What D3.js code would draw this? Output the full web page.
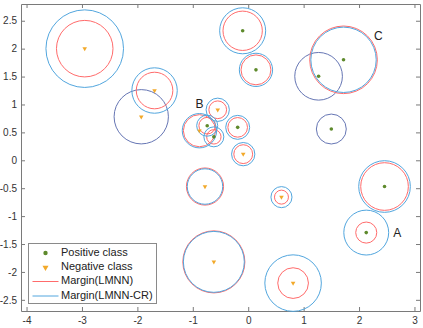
<!DOCTYPE html>
<html>
<head>
<meta charset="utf-8">
<script src="https://cdn.jsdelivr.net/npm/d3@7"></script>
<style>
  body { margin: 0; background: #fff; }
  svg { font-family: 'Liberation Sans', Arial, sans-serif; }
</style>
</head>
<body>
<div id="chart"></div>
<script>
// samples: position, class and margin radii (null = not drawn)
const pointX = [-2.95, -1.69, -1.93, -0.10, 0.14, 1.72, 1.27, 1.50, -0.19, -0.09,
  -0.55, -0.74, -0.88, -0.62, -0.78, -0.62, 0.60, 2.46, 2.13, 0.81]
const pointY = [2.00, 1.25, 0.78, 2.32, 1.62, 1.80, 1.505, 0.56, 0.59, 0.11,
  0.905, 0.62, 0.53, 0.42, -0.47, -1.82, -0.66, -0.47, -1.295, -2.20]
const pointClass = ['neg', 'neg', 'neg', 'pos', 'pos', 'pos', 'pos', 'pos', 'pos', 'neg',
  'neg', 'pos', 'neg', 'pos', 'neg', 'neg', 'neg', 'pos', 'pos', 'neg']
const lmnnR = [0.51, 0.33, null, 0.355, 0.27, 0.61, null, null, 0.177, 0.17,
  0.16, 0.15, 0.29, 0.13, 0.335, 0.56, 0.126, 0.43, 0.19, 0.277]
const lmnnCrR = [0.70, 0.41, null, 0.415, 0.30, 0.59, null, null, 0.216, 0.21,
  0.21, 0.19, 0.31, 0.18, 0.32, 0.55, 0.19, 0.466, 0.405, 0.51]
const plainR = [null, null, 0.49, null, null, null, 0.43, 0.27, null, null,
  null, null, null, null, null, null, null, null, null, null]

const xTicks = [-4, -3, -2, -1, 0, 1, 2, 3]
const yTicks = [-2.5, -2, -1.5, -1, -0.5, 0, 0.5, 1, 1.5, 2, 2.5]

const labelText = ['A', 'B', 'C']
const labelX = [2.69, -0.88, 2.35]
const labelY = [-1.31, 1.0, 2.22]

const legendText = ['Positive class', 'Negative class', 'Margin(LMNN)', 'Margin(LMNN-CR)']

const red = '#ff6b6b'
const blue = '#52a6de'
const navy = '#6676b4'
const green = '#5e8a2c'
const orange = '#f2a92a'

const W = 423
const H = 328
const plot = { left: 21, right: 420, top: 4, bottom: 311 }

const svg = d3.select('#chart').append('svg')
  .attr('width', W)
  .attr('height', H)

const x = d3.scaleLinear().domain([-4.1, 3.1]).range([plot.left, plot.right])
const y = d3.scaleLinear().domain([-2.7, 2.8]).range([plot.bottom, plot.top])
const rpx = r => x(r) - x(0)

const points = pointX.map((d, i) => ({
  x: d, y: pointY[i], cls: pointClass[i], r1: lmnnR[i], r2: lmnnCrR[i], r0: plainR[i]
}))

// axes, ticks inward on all four sides
function styleAxis(g) {
  g.selectAll('.domain').attr('stroke', '#7a7a7a')
  g.selectAll('.tick line').attr('stroke', '#7a7a7a')
  g.selectAll('.tick text').attr('fill', '#333').attr('font-size', 10)
}
const fmt = d => String(d)

svg.append('g')
  .attr('transform', 'translate(0,' + plot.bottom + ')')
  .call(d3.axisBottom(x).tickValues(xTicks).tickFormat(fmt).tickSizeInner(-4).tickSizeOuter(0).tickPadding(6))
  .call(styleAxis)
svg.append('g')
  .attr('transform', 'translate(0,' + plot.top + ')')
  .call(d3.axisTop(x).tickValues(xTicks).tickFormat('').tickSizeInner(-4).tickSizeOuter(0))
  .call(styleAxis)
svg.append('g')
  .attr('transform', 'translate(' + plot.left + ',0)')
  .call(d3.axisLeft(y).tickValues(yTicks).tickFormat(fmt).tickSizeInner(-4).tickSizeOuter(0).tickPadding(4))
  .call(styleAxis)
svg.append('g')
  .attr('transform', 'translate(' + plot.right + ',0)')
  .call(d3.axisRight(y).tickValues(yTicks).tickFormat('').tickSizeInner(-4).tickSizeOuter(0))
  .call(styleAxis)

svg.selectAll('.tick text').attr('font-family', "'Liberation Sans', Arial, sans-serif")

// margins
const circles = svg.append('g').attr('fill', 'none').attr('stroke-width', 1)
circles.selectAll('.c0')
  .data(points.filter(d => d.r0 != null))
  .enter().append('circle')
  .attr('cx', d => x(d.x)).attr('cy', d => y(d.y)).attr('r', d => rpx(d.r0))
  .attr('stroke', navy)
circles.selectAll('.c1')
  .data(points.filter(d => d.r1 != null))
  .enter().append('circle')
  .attr('cx', d => x(d.x)).attr('cy', d => y(d.y)).attr('r', d => rpx(d.r1))
  .attr('stroke', red)
circles.selectAll('.c2')
  .data(points.filter(d => d.r2 != null))
  .enter().append('circle')
  .attr('cx', d => x(d.x)).attr('cy', d => y(d.y)).attr('r', d => rpx(d.r2))
  .attr('stroke', blue)

// samples
const tri = d3.symbol().type(d3.symbolTriangle).size(9)
svg.append('g').selectAll('circle')
  .data(points.filter(d => d.cls === 'pos'))
  .enter().append('circle')
  .attr('cx', d => x(d.x)).attr('cy', d => y(d.y)).attr('r', 1.8)
  .attr('fill', green)
svg.append('g').selectAll('path')
  .data(points.filter(d => d.cls === 'neg'))
  .enter().append('path')
  .attr('d', tri)
  .attr('transform', d => 'translate(' + x(d.x) + ',' + y(d.y) + ') rotate(180)')
  .attr('fill', orange)

// point labels
svg.append('g').selectAll('text')
  .data(labelText)
  .enter().append('text')
  .attr('x', (d, i) => x(labelX[i]))
  .attr('y', (d, i) => y(labelY[i]))
  .attr('text-anchor', 'middle')
  .attr('dominant-baseline', 'middle')
  .attr('font-size', 12)
  .attr('fill', '#222')
  .text(d => d)

// legend
const legend = svg.append('g').attr('transform', 'translate(28.5,243.5)')
legend.append('rect')
  .attr('width', 128).attr('height', 60)
  .attr('fill', '#fff').attr('stroke', '#8a8a8a')
const rowY = [9.5, 24, 38, 52.5]
legendText.forEach((t, i) => {
  const row = legend.append('g').attr('transform', 'translate(0,' + rowY[i] + ')')
  if (i === 0) row.append('circle').attr('cx', 17).attr('r', 2.2).attr('fill', green)
  if (i === 1) row.append('path').attr('d', d3.symbol().type(d3.symbolTriangle).size(16))
    .attr('transform', 'translate(17,0) rotate(180)').attr('fill', orange)
  if (i >= 2) row.append('line').attr('x1', 4).attr('x2', 30)
    .attr('stroke', i === 2 ? red : blue).attr('stroke-width', 1)
  row.append('text')
    .attr('x', 32.5)
    .attr('dominant-baseline', 'middle')
    .attr('font-size', 11)
    .attr('fill', '#222')
    .text(t)
})
</script>
</body>
</html>
